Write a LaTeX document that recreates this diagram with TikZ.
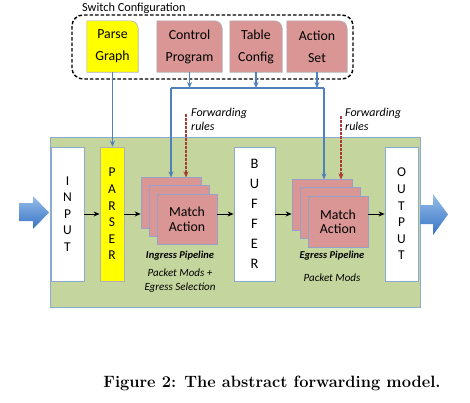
\documentclass[tikz,border=0pt]{standalone}
\usepackage{fontspec}
\newfontfamily\carl{Carlito}
\usetikzlibrary{arrows.meta}
\definecolor{grn}{RGB}{196,214,158}
\definecolor{pinkbox}{RGB}{217,150,148}
\definecolor{yel}{RGB}{255,255,0}
\definecolor{bord}{RGB}{140,170,205}
\definecolor{conn}{RGB}{79,129,189}
\definecolor{dred}{RGB}{170,60,55}
\definecolor{alight}{RGB}{150,190,235}
\definecolor{adark}{RGB}{55,115,195}
\definecolor{grayb}{RGB}{175,175,185}
\definecolor{mab}{RGB}{150,160,200}
\newcommand\rtshape[3]{%
  \path[fill=#2, draw=#3, line width=0.6pt] (#1.south west) -- (#1.north west) -- ([xshift=-8pt]#1.north east) .. controls ([xshift=-3.5pt]#1.north east) and ([yshift=-3.5pt]#1.north east) .. ([yshift=-8pt]#1.north east) -- (#1.south east) -- cycle;}
\begin{document}
\begin{tikzpicture}[x=1pt,y=-1pt,
  cfg/.style={inner sep=0pt, minimum height=51pt},
  cfgtext/.style={font=\carl\fontsize{13.8}{22}\selectfont, align=center, inner sep=0pt},
  wbox/.style={draw=bord, fill=white, line width=0.8pt, inner sep=0pt, minimum height=134pt, minimum width=33pt},
  vtext/.style={font=\carl\fontsize{13.5}{16.6}\selectfont, align=center},
  mabox/.style={draw=mab, fill=pinkbox, line width=0.6pt, inner sep=0pt, minimum width=60pt, minimum height=50.5pt},
  matext/.style={font=\carl\fontsize{13.8}{14.5}\selectfont, align=center},
  bconn/.style={draw=conn, line width=1.3pt, -{Stealth[length=6pt,width=5pt]}},
  bline/.style={draw=conn, line width=1.3pt},
  blk/.style={draw=black, line width=1pt, -{Stealth[length=6pt,width=5pt]}},
  fwd/.style={draw=dred, line width=1.2pt, dash pattern=on 2.5pt off 1.5pt, -{Stealth[length=6pt,width=5pt]}},
  fwdtext/.style={font=\carl\itshape\fontsize{12}{14}\selectfont, align=left, anchor=west, inner sep=0pt},
  pipe/.style={font=\carl\bfseries\itshape\fontsize{10.5}{13}\selectfont},
  mods/.style={font=\carl\itshape\fontsize{11}{14}\selectfont, align=center},
]
\useasboundingbox (0,0) rectangle (470,402);
\fill[white] (0,0) rectangle (470,402);

% Switch configuration
\node[font=\carl\fontsize{12.3}{14}\selectfont, anchor=west, inner sep=0pt] (swl) at (82,8) {Switch Configuration};
\draw[black, line width=1.4pt, dash pattern=on 3.5pt off 2pt, rounded corners=11pt] (72,15) rectangle (353,79);

\node[cfg, minimum width=51pt] (pg) at (112.5,46.5) {};
\node[cfg, minimum width=65pt] (cp) at (189.5,46.5) {};
\node[cfg, minimum width=52pt] (tc) at (256,46.5) {};
\node[cfg, minimum width=60pt] (as) at (317,46.5) {};
\rtshape{pg}{yel}{grayb}
\rtshape{cp}{pinkbox}{grayb}
\rtshape{tc}{pinkbox}{grayb}
\rtshape{as}{pinkbox}{grayb}
\node[cfgtext] (pgt) at (pg.center) {Parse\\Graph};
\node[cfgtext] (cpt) at (cp.center) {Control\\Program};
\node[cfgtext] (tct) at (tc.center) {Table\\Config};
\node[cfgtext] (ast) at (as.center) {Action\\Set};

% green background
\node[fill=grn, draw=bord, line width=0.8pt, minimum width=370pt, minimum height=170pt, inner sep=0pt] (bg) at (235,222) {};

% big arrows
\shade[top color=alight, bottom color=adark] (19,203) -- (33,203) -- (33,196) -- (49,212.5) -- (33,229) -- (33,221) -- (19,221) -- cycle;
\shade[top color=alight, bottom color=adark] (420,205) -- (433,205) -- (433,194) -- (448,214.5) -- (433,235) -- (433,224) -- (420,224) -- cycle;

% vertical boxes
\node[wbox] (in) at (67.5,214) {};
\node[vtext] (int) at (in.center) {I\\N\\P\\U\\T};
\node[wbox, fill=yel, draw=grayb, minimum width=24pt] (ps) at (112,214) {};
\node[vtext] (pst) at (ps.center) {P\\A\\R\\S\\E\\R};
\node[wbox, minimum width=41pt] (bf) at (254.5,214) {};
\node[vtext, font=\carl\fontsize{14.5}{20}\selectfont] (bft) at (bf.center) {B\\U\\F\\F\\E\\R};
\node[wbox, minimum width=33pt] (out) at (401.5,214) {};
\node[vtext] (outt) at (out.center) {O\\U\\T\\P\\U\\T};

% ingress match-action stack
\node[mabox] (ib) at (171,203) {};
\node[mabox] (im) at (179,211) {};
\node[mabox] (if) at (187,219.5) {};
\node[matext] (ift) at (if.center) {Match\\Action};
% egress stack
\node[mabox] (eb) at (322,205) {};
\node[mabox] (em) at (330,213) {};
\node[mabox] (ef) at (338,222) {};
\node[matext] (eft) at (ef.center) {Match\\Action};

% labels
\node[pipe] (ipl) at (180,256) {Ingress Pipeline};
\node[mods] (iml) at (180,281) {Packet Mods +\\Egress Selection};
\node[pipe] (epl) at (332,256) {Egress Pipeline};
\node[mods] (eml) at (332,278) {Packet Mods};
\node[fwdtext] (fr1) at (191,119) {Forwarding\\rules};
\node[fwdtext] (fr2) at (345,119) {Forwarding\\rules};

% config connectors
\coordinate (hl) at (171,88);
\coordinate (hr) at (324,88);
\draw[bline] (hl) -- (hr);
\draw[bconn] (cp.south) -- (cp.south |- hl);
\draw[bconn] (tc.south) -- (tc.south |- hl);
\draw[bconn] (as.south) -- (as.south |- hl);
\draw[bconn] (hl) -- (hl |- ib.north);
\draw[bconn] (hr) -- (hr |- eb.north);
\draw[bconn] (pg.south) -- (pg.south |- ps.north);

% forwarding rules
\coordinate (f1) at (186,114);
\coordinate (f2) at (341,116);
\draw[fwd] (f1) -- (f1 |- ib.north);
\draw[fwd] (f2) -- (f2 |- eb.north);

% data path
\draw[blk] (in) -- (ps);
\draw[blk] (ps.east) -- (ps.east -| ib.west);
\draw[blk] (bf.west -| if.east) -- (bf.west);
\draw[blk] (bf.east) -- (bf.east -| eb.west);
\draw[blk] (out.west -| ef.east) -- (out.west);

% caption
\node[font=\fontsize{16.4}{19}\bfseries\selectfont, inner sep=0pt] (cap) at (272,383) {Figure 2: The abstract forwarding model.};
\end{tikzpicture}
\end{document}
